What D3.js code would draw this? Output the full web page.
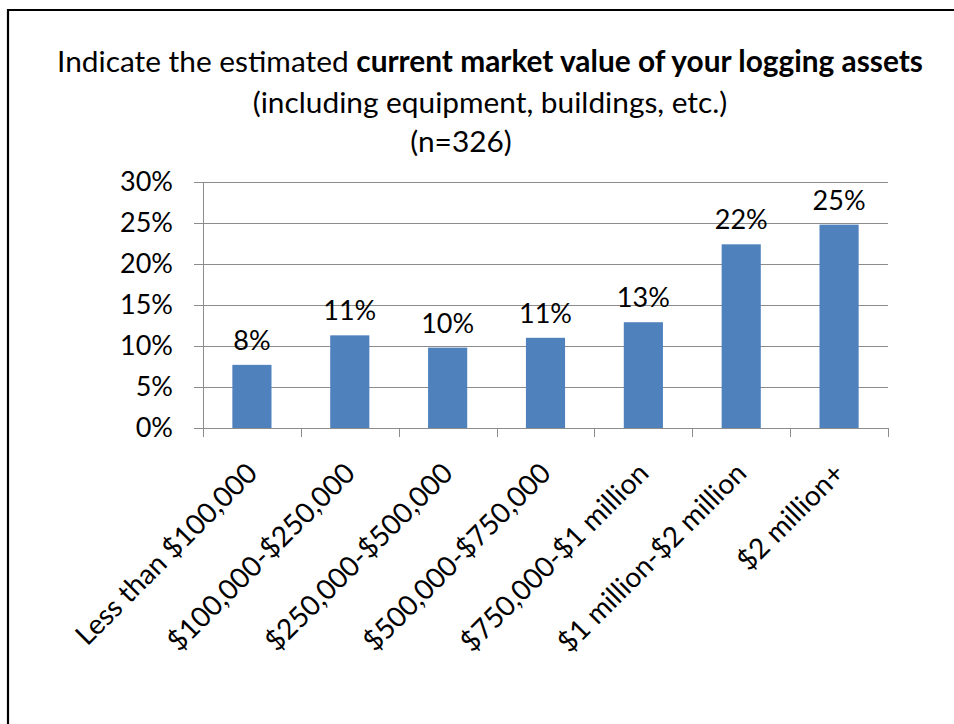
<!DOCTYPE html>
<html>
<head>
<meta charset="utf-8">
<script src="https://cdn.jsdelivr.net/npm/d3@7"></script>
<style>
  body { margin: 0; background: #fff; }
  text { font-family: Lato, "Open Sans", sans-serif; fill: #000; }
</style>
</head>
<body>
<script>
const categories = [
  "Less than $100,000",
  "$100,000-$250,000",
  "$250,000-$500,000",
  "$500,000-$750,000",
  "$750,000-$1 million",
  "$1 million-$2 million",
  "$2 million+"
];
const values = [7.7, 11.3, 9.8, 11.0, 12.9, 22.4, 24.8];
const yTicks = [0, 5, 10, 15, 20, 25, 30];

const width = 954;
const height = 724;

const svg = d3.select("body").append("svg")
  .attr("width", width)
  .attr("height", height);

// frame (only top + left edges show in the picture)
svg.append("path")
  .attr("d", `M8,724 V10 H${width}`)
  .attr("fill", "none")
  .attr("stroke", "#000")
  .attr("stroke-width", 2.2);

const x = d3.scaleBand()
  .domain(categories)
  .range([203, 888])
  .paddingInner(0.6)
  .paddingOuter(0.3);

const y = d3.scaleLinear()
  .domain([0, 30])
  .range([428, 182]);

// pick a font size so a sample string has the width seen in the picture
function fitSize(build, target) {
  const t = build(svg.append("text").style("font-size", "100px"));
  const w = t.node().getBBox().width;
  t.remove();
  return 100 * target / w;
}

const labelSize = fitSize(t => t.text("30%"), 53);
const catSize = fitSize(t => t.text("Less than $100,000"), 243);
const titleSize = fitSize(t => {
  t.append("tspan").text("Indicate the estimated ");
  t.append("tspan").attr("font-weight", "bold").text("current market value of your logging assets");
  return t;
}, 866);

// title
const title = svg.append("g").style("font-size", titleSize + "px");
const line1 = title.append("text")
  .attr("x", 490).attr("y", 72)
  .attr("text-anchor", "middle");
line1.append("tspan").text("Indicate the estimated ");
line1.append("tspan").attr("font-weight", "bold").text("current market value of your logging assets");
title.append("text")
  .attr("x", 490).attr("y", 113)
  .attr("text-anchor", "middle")
  .text("(including equipment, buildings, etc.)");
title.append("text")
  .attr("x", 461).attr("y", 152)
  .attr("text-anchor", "middle")
  .text("(n=326)");

// gridlines
svg.append("g")
  .selectAll("line")
  .data(yTicks)
  .join("line")
  .attr("x1", 194).attr("x2", 888)
  .attr("y1", d => y(d) + 0.5).attr("y2", d => y(d) + 0.5)
  .attr("stroke", "#8c8c8c")
  .attr("stroke-width", 1);

// y axis line
svg.append("line")
  .attr("x1", 203.5).attr("x2", 203.5)
  .attr("y1", y(30)).attr("y2", 437)
  .attr("stroke", "#8c8c8c");

// x tick marks at category boundaries
const bounds = categories.map(c => x(c) - x.step() * x.paddingInner() / 2 + x.step());
svg.append("g")
  .selectAll("line")
  .data(bounds)
  .join("line")
  .attr("x1", d => Math.round(d) + 0.5).attr("x2", d => Math.round(d) + 0.5)
  .attr("y1", 428).attr("y2", 437)
  .attr("stroke", "#8c8c8c");

// y tick labels
svg.append("g")
  .style("font-size", labelSize + "px")
  .selectAll("text")
  .data(yTicks)
  .join("text")
  .attr("x", 173)
  .attr("y", d => y(d))
  .attr("dy", "0.35em")
  .attr("text-anchor", "end")
  .text(d => d + "%");

// bars
svg.append("g")
  .selectAll("rect")
  .data(values)
  .join("rect")
  .attr("x", (d, i) => x(categories[i]))
  .attr("width", x.bandwidth())
  .attr("y", d => y(d))
  .attr("height", d => y(0) - y(d))
  .attr("fill", "#4f81bd");

// value labels
svg.append("g")
  .style("font-size", labelSize + "px")
  .selectAll("text")
  .data(values)
  .join("text")
  .attr("x", (d, i) => x(categories[i]) + x.bandwidth() / 2)
  .attr("y", d => y(d) - 15)
  .attr("text-anchor", "middle")
  .text(d => Math.round(d) + "%");

// rotated category labels
svg.append("g")
  .style("font-size", catSize + "px")
  .selectAll("text")
  .data(categories)
  .join("text")
  .attr("transform", d => `translate(${x(d) + x.bandwidth() / 2 + 7},475) rotate(-45)`)
  .attr("text-anchor", "end")
  .text(d => d);
</script>
</body>
</html>
